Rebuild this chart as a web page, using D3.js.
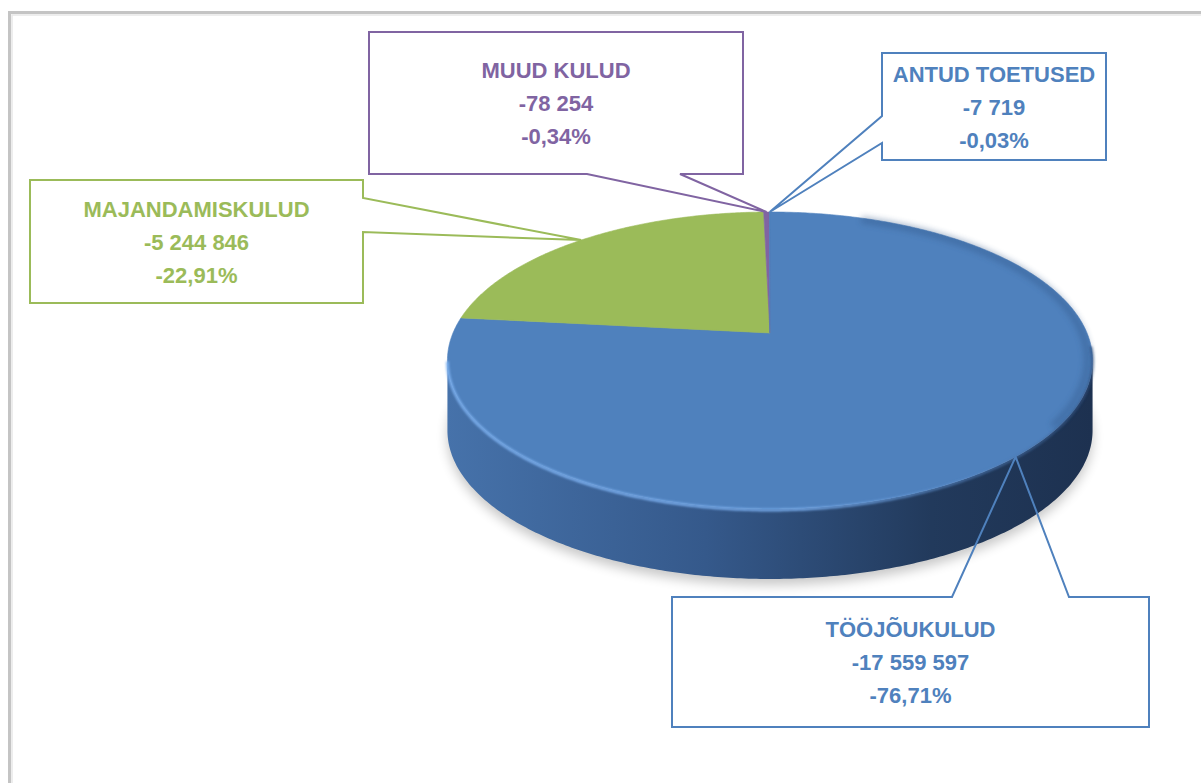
<!DOCTYPE html>
<html>
<head>
<meta charset="utf-8">
<script src="https://cdn.jsdelivr.net/npm/d3@7"></script>
<style>
  body { margin: 0; background: #fff; }
  svg { display: block; }
</style>
</head>
<body>
<div id="chart"></div>
<script>
// data
const categories = ["TÖÖJÕUKULUD", "MAJANDAMISKULUD", "MUUD KULUD", "ANTUD TOETUSED"]
const values = [-17559597, -5244846, -78254, -7719]
const colors = ["#4F81BD", "#9BBB59", "#8064A2", "#4F81BD"]

// callout boxes (layout only): box corners, side of the pointer, pointer base
const callouts = [
  { x0: 672, y0: 597, x1: 1149, y1: 727, side: "top", b1: 952, b2: 1069 },
  { x0: 30, y0: 180, x1: 363, y1: 303, side: "right", b1: 198, b2: 232 },
  { x0: 369, y0: 32, x1: 743, y1: 174, side: "bottom", b1: 587, b2: 680 },
  { x0: 882, y0: 53, x1: 1106, y1: 160, side: "left", b1: 116, b2: 143 },
]

const width = 1201
const height = 783

// 3d pie geometry (perspective disc)
const pie3d = { cx: 770, cy: 333, a: 317, b: 143.4, k: 0.185, depth: 70 }

function proj(angle, r, dy) {
  const u = r * Math.sin(angle)
  const v = -r * Math.cos(angle)
  const w = 1 - pie3d.k * v
  return [pie3d.cx + pie3d.a * u / w, pie3d.cy + pie3d.b * v / w + (dy || 0)]
}

function arcPoints(a0, a1, r, dy) {
  const n = Math.max(2, Math.ceil(Math.abs(a1 - a0) / 0.01))
  return d3.range(n + 1).map(i => proj(a0 + (a1 - a0) * i / n, r, dy))
}

const line = d3.line()

const locale = d3.formatLocale({ decimal: ",", thousands: "\u00a0", grouping: [3], currency: ["", ""], minus: "-" })
const fmtNum = locale.format(",d")
const fmtPct = locale.format(".2%")

const total = d3.sum(values, d => Math.abs(d))

const slices = d3.pie()
  .sort(null)
  .value(d => Math.abs(d))
  .startAngle(0)
  .endAngle(2 * Math.PI)(values)

const svg = d3.select("#chart")
  .append("svg")
    .attr("width", width)
    .attr("height", height)

const defs = svg.append("defs")

const sideGrad = defs.append("linearGradient")
    .attr("id", "sideGrad")
    .attr("gradientUnits", "userSpaceOnUse")
    .attr("x1", 447).attr("x2", 1093).attr("y1", 0).attr("y2", 0)
sideGrad.selectAll("stop")
  .data([["0%", "#4672AA"], ["40%", "#35598B"], ["75%", "#223A5C"], ["100%", "#1D3150"]])
  .enter().append("stop")
    .attr("offset", d => d[0])
    .attr("stop-color", d => d[1])

const rimGrad = defs.append("linearGradient")
    .attr("id", "rimGrad")
    .attr("gradientUnits", "userSpaceOnUse")
    .attr("x1", 447).attr("x2", 1093).attr("y1", 0).attr("y2", 0)
rimGrad.selectAll("stop")
  .data([["0%", "#7DB1F0", 0.9], ["55%", "#78ACEC", 0.9], ["80%", "#5C8FCF", 0.5], ["100%", "#2E4C78", 0.6]])
  .enter().append("stop")
    .attr("offset", d => d[0])
    .attr("stop-color", d => d[1])
    .attr("stop-opacity", d => d[2])

defs.append("filter").attr("id", "blur6")
    .attr("x", "-20%").attr("y", "-20%").attr("width", "140%").attr("height", "140%")
  .append("feGaussianBlur").attr("stdDeviation", 6)
defs.append("filter").attr("id", "blur1")
  .append("feGaussianBlur").attr("stdDeviation", 1.2)
defs.append("filter").attr("id", "blur3")
  .append("feGaussianBlur").attr("stdDeviation", 3)

// chart frame
svg.append("rect")
    .attr("x", 9.5).attr("y", 12.5)
    .attr("width", 1400).attr("height", 1000)
    .attr("fill", "none")
    .attr("stroke", "#c4c4c4")
    .attr("stroke-width", 3)
svg.append("rect")
    .attr("x", 12).attr("y", 15)
    .attr("width", 1400).attr("height", 1000)
    .attr("fill", "none")
    .attr("stroke", "#e8e8e8")
    .attr("stroke-width", 1.5)

const pieG = svg.append("g")

// shadow under the pie
pieG.append("path")
    .attr("d", line(arcPoints(0, 2 * Math.PI, 1.0, pie3d.depth + 6)) + "Z")
    .attr("fill", "#000")
    .attr("opacity", 0.22)
    .attr("filter", "url(#blur6)")

// side wall (front half)
const thetaR = Math.acos(-pie3d.k)
const thetaL = 2 * Math.PI - thetaR
const sidePts = arcPoints(thetaR, thetaL, 1, 0)
  .concat(arcPoints(thetaL, thetaR, 1, pie3d.depth))
pieG.append("path")
    .attr("d", line(sidePts) + "Z")
    .attr("fill", "url(#sideGrad)")

// top face slices
pieG.selectAll(".slice")
  .data(slices)
  .enter().append("path")
    .attr("class", "slice")
    .attr("d", d => line([proj(0, 0)].concat(arcPoints(d.startAngle, d.endAngle, 1, 0))) + "Z")
    .attr("fill", (d, i) => colors[i])
    .attr("stroke", (d, i) => colors[i])
    .attr("stroke-width", 0.6)

// soft bevel: darker inner rim on the right, bright rim along the front
pieG.append("path")
    .attr("d", line(arcPoints(0.35, 2.2, 0.985, 0)))
    .attr("fill", "none")
    .attr("stroke", "#2F5384")
    .attr("stroke-width", 6)
    .attr("opacity", 0.45)
    .attr("filter", "url(#blur3)")
pieG.append("path")
    .attr("d", line(arcPoints(thetaR - 0.1, thetaL, 1, 1)))
    .attr("fill", "none")
    .attr("stroke", "url(#rimGrad)")
    .attr("stroke-width", 3)
    .attr("filter", "url(#blur1)")

// callouts
function calloutPath(c, tip) {
  const t = tip[0] + "," + tip[1]
  if (c.side === "top")
    return `M${c.x0},${c.y0}L${c.b1},${c.y0}L${t}L${c.b2},${c.y0}L${c.x1},${c.y0}L${c.x1},${c.y1}L${c.x0},${c.y1}Z`
  if (c.side === "bottom")
    return `M${c.x0},${c.y0}L${c.x1},${c.y0}L${c.x1},${c.y1}L${c.b2},${c.y1}L${t}L${c.b1},${c.y1}L${c.x0},${c.y1}Z`
  if (c.side === "left")
    return `M${c.x0},${c.y0}L${c.x1},${c.y0}L${c.x1},${c.y1}L${c.x0},${c.y1}L${c.x0},${c.b2}L${t}L${c.x0},${c.b1}Z`
  return `M${c.x0},${c.y0}L${c.x1},${c.y0}L${c.x1},${c.b1}L${t}L${c.x1},${c.b2}L${c.x1},${c.y1}L${c.x0},${c.y1}Z`
}

const labels = svg.selectAll(".callout")
  .data(slices)
  .enter().append("g")
    .attr("class", "callout")

labels.append("path")
    .attr("d", (d, i) => calloutPath(callouts[i], proj((d.startAngle + d.endAngle) / 2, 1, 0)))
    .attr("fill", "none")
    .attr("stroke", (d, i) => colors[i])
    .attr("stroke-width", 2)
    .attr("stroke-linejoin", "miter")

const lineGap = 33
labels.each(function(d, i) {
  const c = callouts[i]
  const mx = (c.x0 + c.x1) / 2
  const my = (c.y0 + c.y1) / 2
  const lines = [categories[i], fmtNum(values[i]), fmtPct(values[i] / total)]
  d3.select(this).selectAll("text")
    .data(lines)
    .enter().append("text")
      .attr("x", mx)
      .attr("y", (t, j) => my + (j - 1) * lineGap + 8)
      .attr("text-anchor", "middle")
      .style("font-family", "'Liberation Sans', Arial, sans-serif")
      .style("font-weight", "bold")
      .style("font-size", "22px")
      .attr("fill", colors[i])
      .text(t => t)
})
</script>
</body>
</html>
